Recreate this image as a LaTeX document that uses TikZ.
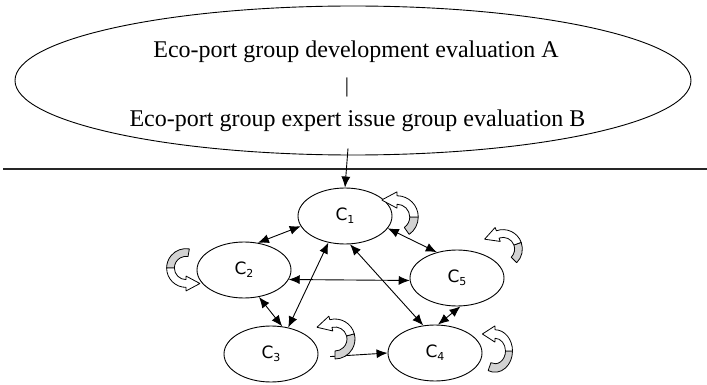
\documentclass[tikz,border=0pt]{standalone}
\usepackage{fontspec}
\setmainfont{Liberation Serif}
\newfontfamily\cfont{DejaVu Sans}
\usetikzlibrary{arrows.meta}
\usetikzlibrary{shapes.geometric}

\newcommand{\cidx}[1]{\cfont C\raisebox{-0.3ex}{\fontsize{11}{11}\selectfont #1}}
% curved self arrow: #1 position, #2 scope options, #3 end angle
\newcommand{\turnarrow}[3]{%
  \begin{scope}[shift={#1},#2]
    \draw[line width=0.8pt,fill=gray!35] (0:7.5) arc[start angle=0,end angle=#3,radius=7.5]
      -- (#3:12.5) arc[start angle=#3,end angle=0,radius=12.5] -- cycle;
    \draw[line width=0.8pt,fill=white] (90:7.5) arc[start angle=90,end angle=0,radius=7.5]
      -- (0:12.5) arc[start angle=0,end angle=90,radius=12.5]
      -- (0,14.8) -- (-9,10) -- (0,5.2) -- cycle;
  \end{scope}}

\begin{document}
\begin{tikzpicture}[x=1pt,y=1pt,>={Latex[length=11pt,width=9pt]},line join=bevel,
  factor/.style={draw,ellipse,line width=0.9pt,minimum width=94pt,minimum height=56pt,
    inner sep=0pt,font=\fontsize{17}{17}\selectfont},
  evaltext/.style={anchor=base,inner sep=0pt,font=\fontsize{24}{24}\selectfont},
  link/.style={<->,line width=0.9pt}]
\useasboundingbox (0,0) rectangle (707,-385);
%%
\node (eval) at (353,-80.5) [draw,ellipse,line width=0.9pt,minimum width=676pt,minimum height=149pt,inner sep=0pt] {};
\node (evalA) at (356,-58) [evaltext] {Eco-port group development evaluation A};
\node (bar) at (347,-87.5) [inner sep=0pt,font=\fontsize{21}{21}\selectfont] {|};
\node (evalB) at (357.5,-127) [evaltext] {Eco-port group expert issue group evaluation B};
\coordinate (rule_l) at (3,-169);
\coordinate (rule_r) at (707,-169);
\draw [line width=1.3pt,black!85] (rule_l) -- (rule_r);
%
\node (C1) at (345,-216) [factor] {\cidx{1}};
\node (C2) at (244,-270) [factor] {\cidx{2}};
\node (C5) at (457,-278) [factor] {\cidx{5}};
\node (C3) at (271,-354) [factor] {\cidx{3}};
\node (C4) at (435,-353) [factor] {\cidx{4}};
\draw [->,line width=0.9pt] ([xshift=-5pt,yshift=7pt]eval.south) -- (C1.north);
\draw [link] (C1.193) -- (C2.63);
\draw [link] (C1.344) -- (C5.128);
\draw [link] (C1.238) -- (C3.57);
\draw [link] (C1.280) -- (C4.113);
\draw [link] (C2.348) -- (C5.183);
\draw [link] (C2.299) -- (C3.68);
\draw [link] (C5.277) -- (C4.84);
\draw [->,line width=0.9pt,shorten <=12pt] (C3.-4) -- (C4.west);
%
\turnarrow{(397,-217)}{scale=1.7}{-55}
\turnarrow{(503,-249)}{rotate=20,scale=1.55}{-65}
\turnarrow{(335,-339)}{rotate=15,scale=1.6}{-105}
\turnarrow{(495,-351)}{xscale=1.4,yscale=1.7}{-113}
\turnarrow{(186,-268)}{rotate=180,scale=1.55}{-100}
%
\end{tikzpicture}
\end{document}
